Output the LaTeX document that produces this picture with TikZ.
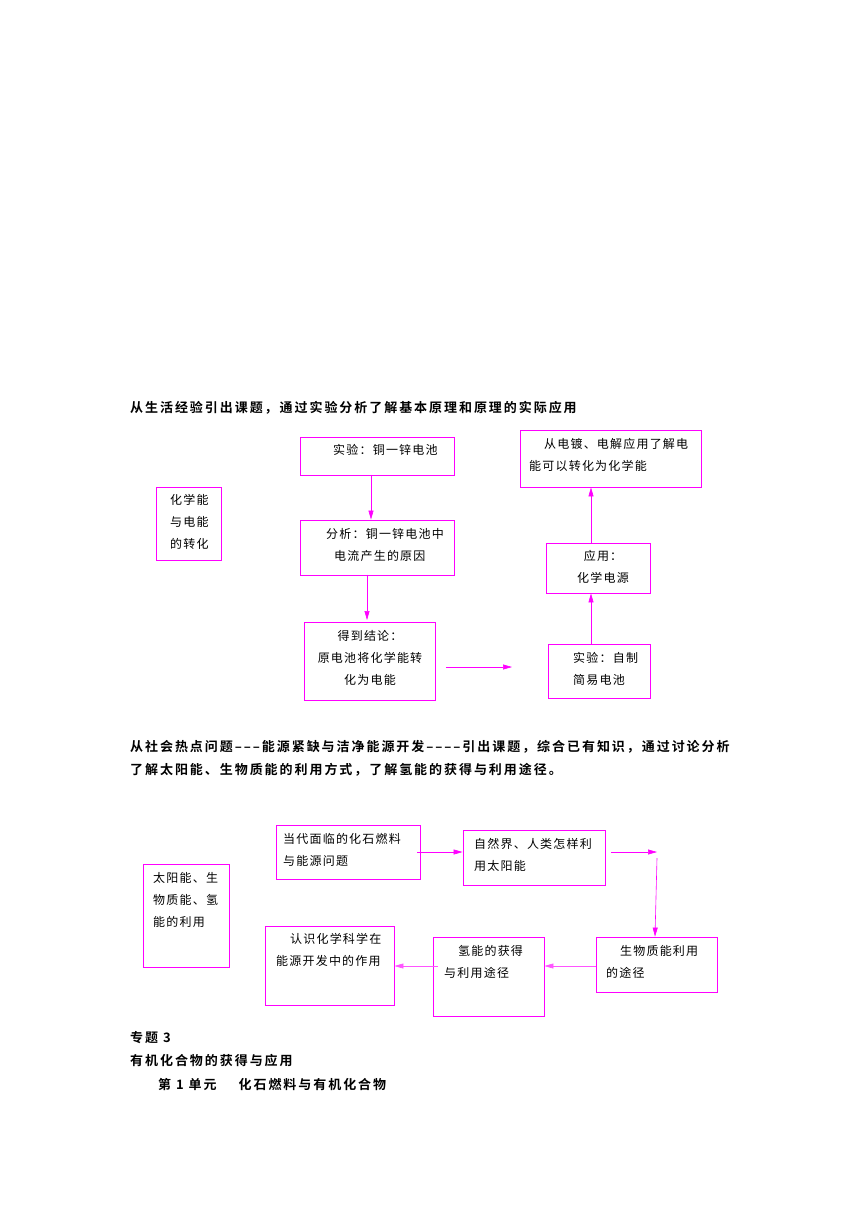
\documentclass[tikz,border=0pt]{standalone}
\usepackage{fontspec}
\setmainfont[LetterSpace=10]{Noto Sans CJK SC}
\newfontfamily\boldcjk[LetterSpace=15]{Noto Sans CJK SC Bold}
\usetikzlibrary{arrows.meta}
\definecolor{mg}{HTML}{FF00FF}
\definecolor{lmg}{HTML}{FF55FF}
\tikzset{
  bx/.style={draw=mg, line width=0.8pt, inner sep=0pt},
  tx/.style={anchor=north west, inner sep=0pt, font=\fontsize{12}{22}\selectfont, align=left},
  ar/.style={draw=mg, line width=0.6pt, -{Triangle[length=9pt,width=5pt]}},
  lar/.style={draw=lmg, line width=0.6pt, -{Triangle[length=9pt,width=5pt]}},
  ttl/.style={anchor=west, inner sep=0pt, font=\boldcjk\fontsize{13}{23}\selectfont, align=left}
}
\newcommand{\bxnode}[5]{% name x1 y1 x2 y2
  \node[bx, minimum width={(#4-#2)*1pt}, minimum height={(#5-#3)*1pt}] (#1) at ({(#2+#4)/2},{(#3+#5)/2}) {};}
\newcommand{\txt}[4]{\node[tx] (#1) at (#2,#3-9) {#4};}
\begin{document}
\begin{tikzpicture}[x=1pt,y=-1pt]
\useasboundingbox (0,0) rectangle (860,1216);
\node[ttl] (t1) at (130,408) {从生活经验引出课题，通过实验分析了解基本原理和原理的实际应用};
\bxnode{A}{156}{487}{221}{560} \txt{ta}{170}{503}{化学能\\与电能\\的转化}
\bxnode{B}{300}{437}{454}{475} \txt{tb}{333}{453}{实验：铜一锌电池}
\bxnode{C}{300}{520}{454}{575} \txt{tc}{326}{537}{分析：铜一锌电池中\\\hspace{8pt}电流产生的原因}
\bxnode{D}{304}{622}{435}{700} \node[tx,align=center,anchor=north] (td) at (370,630) {得到结论：\\原电池将化学能转\\化为电能};
\bxnode{E}{548}{644}{650}{698} \txt{te}{573}{661}{实验：自制\\简易电池}
\bxnode{F}{546}{543}{650}{593} \node[tx,align=center,anchor=north] (tf) at (603,550) {应用：\\化学电源};
\bxnode{G}{520}{430}{701}{487} \txt{tg}{529}{447}{\hspace{15pt}从电镀、电解应用了解电\\能可以转化为化学能}
\draw[ar] (C.north -| 371,0) ++(0,-45) -- (C.north -| 371,0);
\draw[ar] (D.north -| 367,0) ++(0,-47) -- (367,620);
\coordinate (d1) at (446,667); \coordinate (d2) at (512,667);
\draw[ar] (d1) -- (d2);
\draw[ar] (E.north -| 591,0) -- (F.south -| 591,0);
\draw[ar] (F.north -| 591,0) -- (G.south -| 591,0);

\node[ttl] (t2) at (130,758) {从社会热点问题–––能源紧缺与洁净能源开发––––引出课题，综合已有知识，通过讨论分析\\了解太阳能、生物质能的利用方式，了解氢能的获得与利用途径。};
\bxnode{H}{143}{864}{229}{967} \txt{th}{153}{881}{太阳能、生\\物质能、氢\\能的利用}
\bxnode{I}{276}{825}{420}{879} \txt{ti}{283}{842}{当代面临的化石燃料\\与能源问题}
\bxnode{J}{463}{830}{605}{885} \txt{tj}{474}{847}{自然界、人类怎样利\\用太阳能}
\bxnode{K}{596}{937}{717}{992} \txt{tk}{606}{954}{\hspace{14pt}生物质能利用\\的途径}
\bxnode{L}{433}{937}{544}{1016} \txt{tl}{444}{954}{\hspace{14pt}氢能的获得\\与利用途径}
\bxnode{M}{265}{926}{394}{1005} \txt{tm}{276}{942}{\hspace{14pt}认识化学科学在\\能源开发中的作用}
\draw[ar] (I.east |- 0,852) ++(-3,0) -- (J.west |- 0,852);
\coordinate (j1) at (611,852); \coordinate (j2) at (657,852);
\draw[ar] (j1) -- (j2);
\coordinate (k1) at (657,858);
\draw[ar] (k1) -- (K.north -| 655,0);
\draw[lar] (K.west |- 0,966) -- (L.east |- 0,966);
\draw[lar] (L.west |- 0,966) ++(5,0) -- (M.east |- 0,966);

\node[ttl] (t3) at (130,1038) {专题 3};
\node[ttl] (t4) at (130,1061) {有机化合物的获得与应用};
\node[ttl] (t5) at (158,1084) {第 1 单元\hspace{22pt}化石燃料与有机化合物};
\end{tikzpicture}
\end{document}
